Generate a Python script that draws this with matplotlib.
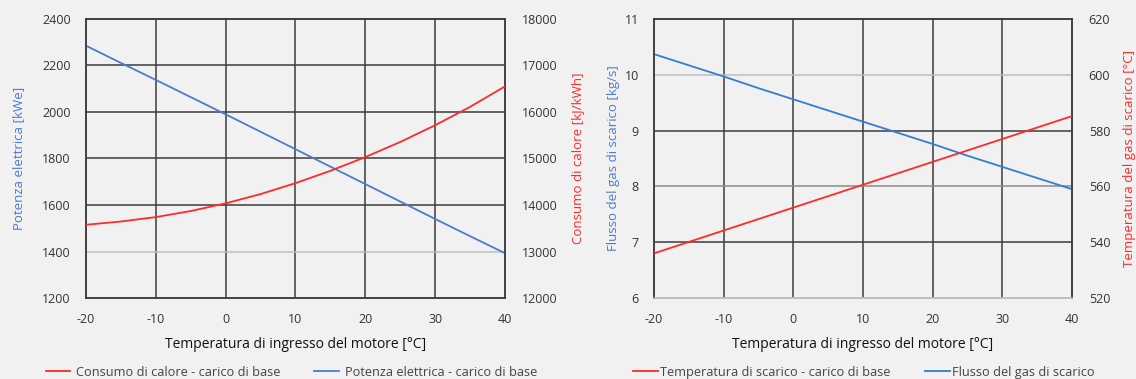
import matplotlib as mpl
import matplotlib.pyplot as plt
from matplotlib.lines import Line2D

mpl.rcParams['font.family'] = ['Open Sans', 'DejaVu Sans']

temp_ticks = [-20, -10, 0, 10, 20, 30, 40]
temp = [-20, -15, -10, -5, 0, 5, 10, 15, 20, 25, 30, 35, 40]

# grafico 1
potenza = [2285, 2211, 2138, 2064, 1990, 1915, 1840, 1765, 1690, 1615, 1540, 1466, 1393]
consumo = [13575, 13645, 13740, 13870, 14035, 14235, 14470, 14735, 15030, 15355, 15715, 16110, 16550]

# grafico 2
flusso = [10.37, 10.17, 9.97, 9.76, 9.56, 9.36, 9.16, 8.96, 8.76, 8.55, 8.35, 8.15, 7.95]
temp_scarico = [536.0, 540.1, 544.2, 548.3, 552.4, 556.5, 560.6, 564.7, 568.8, 572.9, 577.0, 581.1, 585.2]

BG = '#f1f1f1'
DARK = '#3c3c3c'
LIGHT = '#bdbdbd'
MID = '#8a8a8a'
RED = '#ff2a2a'
BLUE1 = '#4a7bd2'
BLUE2 = '#2f7fd0'
TXT = '#333333'

fig = plt.figure(figsize=(11.36, 3.79), dpi=100, facecolor=BG)


def setup(ax, ax2, yl, yr, hcolors, bottom_col):
    ax.set_facecolor(BG)
    ax.set_xlim(-20, 40)
    ax.set_xticks(temp_ticks)
    ax.set_ylim(yl[0], yl[-1])
    ax.set_yticks(yl)
    ax2.set_ylim(yr[0], yr[-1])
    ax2.set_yticks(yr)
    for x in temp_ticks[1:-1]:
        ax.axvline(x, color=DARK, lw=1.1, zorder=1)
    for y, c in zip(yl[1:-1], hcolors):
        ax.axhline(y, color=c, lw=1.1, zorder=1)
    for a in (ax, ax2):
        for s in a.spines.values():
            s.set_color(DARK)
            s.set_linewidth(1.1)
        a.spines['bottom'].set_color(bottom_col)
        a.tick_params(length=0, labelsize=9, colors=TXT)
    ax.tick_params(axis='y', pad=11)
    ax.tick_params(axis='x', pad=11)
    ax2.tick_params(axis='y', pad=12)
    ax.set_xticklabels([str(t) for t in temp_ticks])
    ax.set_xlabel('Temperatura di ingresso del motore [°C]', fontsize=10,
                  color='#111111', labelpad=8)


# ---- sinistra
ax1 = fig.add_axes([0.0757, 0.2137, 0.3688, 0.7362])
ax1b = ax1.twinx()
setup(ax1, ax1b, [1200, 1400, 1600, 1800, 2000, 2200, 2400],
      [12000, 13000, 14000, 15000, 16000, 17000, 18000],
      [LIGHT, DARK, DARK, DARK, DARK], DARK)
ax1.plot(temp, potenza, color=BLUE1, lw=1.3, zorder=3)
ax1b.plot(temp, consumo, color=RED, lw=1.3, zorder=3)
ax1.set_ylabel('Potenza elettrica [kWe]', color=BLUE1, fontsize=9.5, labelpad=12)
ax1b.set_ylabel('Consumo di calore [kJ/kWh]', color=RED, fontsize=9.5, labelpad=10)

# ---- destra
ax2 = fig.add_axes([0.5757, 0.2137, 0.368, 0.7362])
ax2b = ax2.twinx()
setup(ax2, ax2b, [6, 7, 8, 9, 10, 11], [520, 540, 560, 580, 600, 620],
      [DARK, MID, DARK, LIGHT], LIGHT)
ax2.plot(temp, flusso, color=BLUE2, lw=1.3, zorder=3)
ax2b.plot(temp, temp_scarico, color=RED, lw=1.3, zorder=3)
ax2.set_ylabel('Flusso del gas di scarico [kg/s]', color=BLUE1, fontsize=9.5, labelpad=3)
ax2b.set_ylabel('Temperatura del gas di scarico [°C]', color=RED, fontsize=9.5, labelpad=9)

h1 = [Line2D([], [], color=RED, lw=1.3), Line2D([], [], color=BLUE1, lw=1.3)]
fig.legend(h1, ['Consumo di calore - carico di base', 'Potenza elettrica - carico di base'],
           loc='center left', bbox_to_anchor=(0.030, 0.018), ncol=2, frameon=False,
           fontsize=9.2, handlelength=1.95, handletextpad=0.4, columnspacing=2.7,
           labelcolor='#444444')
h2 = [Line2D([], [], color=RED, lw=1.3), Line2D([], [], color=BLUE2, lw=1.3)]
fig.legend(h2, ['Temperatura di scarico - carico di base', 'Flusso del gas di scarico'],
           loc='center left', bbox_to_anchor=(0.5475, 0.018), ncol=2, frameon=False,
           fontsize=9.2, handlelength=1.95, handletextpad=0.15, columnspacing=2.7,
           labelcolor='#444444')

fig.savefig('out.png', dpi=100, facecolor=BG)
